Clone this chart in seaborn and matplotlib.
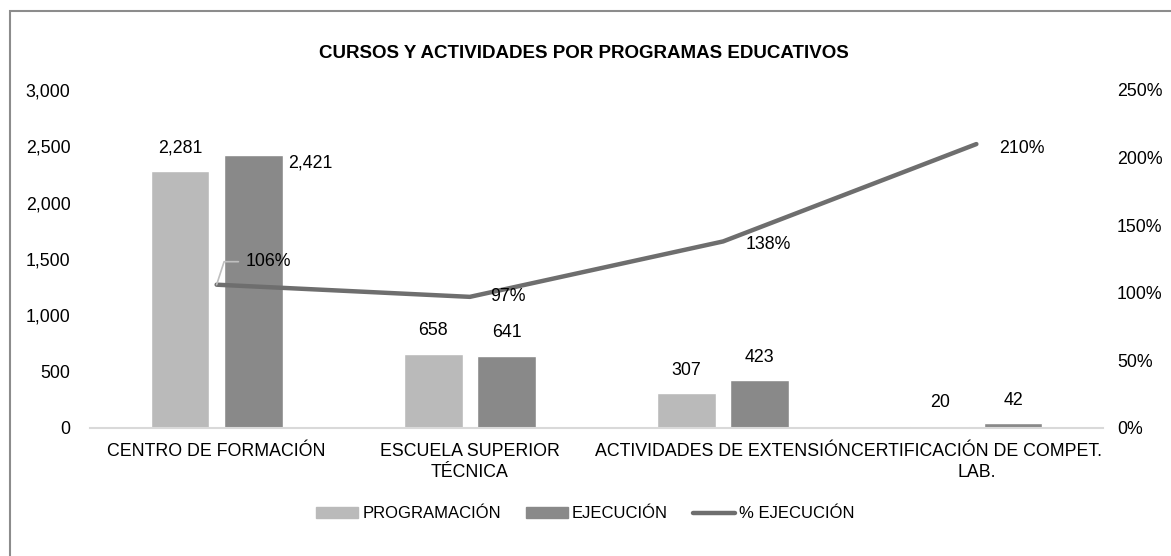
import numpy as np
import pandas as pd
import seaborn as sns
import matplotlib.pyplot as plt
from matplotlib.patches import Patch, Rectangle
from matplotlib.lines import Line2D
from matplotlib.ticker import FuncFormatter, PercentFormatter

categorias = ["CENTRO DE FORMACIÓN", "ESCUELA SUPERIOR TÉCNICA",
              "ACTIVIDADES DE EXTENSIÓN", "CERTIFICACIÓN DE COMPET. LAB."]
etiquetas_x = ["CENTRO DE FORMACIÓN", "ESCUELA SUPERIOR\nTÉCNICA",
               "ACTIVIDADES DE EXTENSIÓN", "CERTIFICACIÓN DE COMPET.\nLAB."]
programacion = [2281, 658, 307, 20]
ejecucion = [2421, 641, 423, 42]
pct_ejecucion = [1.06, 0.97, 1.38, 2.10]
pct_textos = ["106%", "97%", "138%", "210%"]

sns.set_style("white")
plt.rcParams["font.family"] = ["Liberation Sans", "DejaVu Sans"]
plt.rcParams["text.color"] = "black"
plt.rcParams["xtick.color"] = "black"
plt.rcParams["ytick.color"] = "black"

df = pd.DataFrame({
    "categoria": categorias * 2,
    "valor": programacion + ejecucion,
    "serie": ["PROGRAMACIÓN"] * 4 + ["EJECUCIÓN"] * 4,
})

c_prog, c_ejec, c_linea = "#BABABA", "#898989", "#6E6E6E"
fs = 12.8

fig = plt.figure(figsize=(11.71, 5.56), dpi=100)
ax = fig.add_axes([90 / 1171, 1 - 428 / 556, (1103 - 90) / 1171, (428 - 90) / 556])

sns.barplot(data=df, x="categoria", y="valor", hue="serie", order=categorias,
            palette=[c_prog, c_ejec], width=0.58, gap=0.2, ax=ax, legend=False,
            saturation=1)
ax.set_ylim(0, 3000)
ax.set_yticks(np.arange(0, 3001, 500))
ax.yaxis.set_major_formatter(FuncFormatter(lambda v, p: f"{v:,.0f}"))
ax.set_xlabel("")
ax.set_ylabel("")
ax.set_xticks(range(len(categorias)))
ax.set_xticklabels(etiquetas_x, fontsize=fs, linespacing=1.3)
ax.tick_params(axis="y", labelsize=fs, length=0, pad=14)
ax.tick_params(axis="x", length=0, pad=11)
for s in ["top", "left", "right"]:
    ax.spines[s].set_visible(False)
ax.spines["bottom"].set_color("#D9D9D9")
ax.spines["bottom"].set_linewidth(1.5)
ax.set_xlim(-0.5, 3.5)

# etiquetas de barras
for ci, cont in enumerate(ax.containers):
    for bi, bar in enumerate(cont):
        xc = bar.get_x() + bar.get_width() / 2
        h = bar.get_height()
        if ci == 1 and bi == 0:
            ax.annotate(f"{h:,.0f}", (bar.get_x() + bar.get_width(), h),
                        xytext=(5, -8), textcoords="offset pixels",
                        ha="left", va="center", fontsize=fs)
        else:
            ax.annotate(f"{h:,.0f}", (xc, h), xytext=(0, 23),
                        textcoords="offset pixels", ha="center", va="center",
                        fontsize=fs)

ax2 = ax.twinx()
sns.lineplot(x=categorias, y=pct_ejecucion, ax=ax2, color=c_linea, lw=3.2,
             sort=False, solid_capstyle="round")
ax2.set_ylim(0, 2.5)
ax2.set_yticks(np.arange(0, 2.51, 0.5))
ax2.yaxis.set_major_formatter(PercentFormatter(1.0, decimals=0))
ax2.tick_params(axis="y", labelsize=fs, length=0, pad=10)
for s in ["top", "left", "right", "bottom"]:
    ax2.spines[s].set_visible(False)
ax2.set_xlim(-0.5, 3.5)

offsets = [(52, 23), (38, 0), (45, -3), (45, -4)]
for i, (txt, off) in enumerate(zip(pct_textos, offsets)):
    if i == 0:
        ax2.annotate(txt, (i, pct_ejecucion[i]), xytext=off,
                     textcoords="offset pixels", ha="center", va="center",
                     fontsize=fs,
                     arrowprops=dict(arrowstyle="-", color="#BFBFBF", lw=1.2,
                                     connectionstyle="angle,angleA=0,angleB=72,rad=0",
                                     relpos=(0, 0.5), shrinkA=3, shrinkB=0))
    else:
        ax2.annotate(txt, (i, pct_ejecucion[i]), xytext=off,
                     textcoords="offset pixels", ha="center", va="center",
                     fontsize=fs)

fig.text(0.4987, 1 - 53 / 556, "CURSOS Y ACTIVIDADES POR PROGRAMAS EDUCATIVOS",
         ha="center", va="center", fontsize=13.5, fontweight="bold")

handles = [Patch(color=c_prog), Patch(color=c_ejec),
           Line2D([], [], color=c_linea, lw=3.2, solid_capstyle="round")]
fig.legend(handles, ["PROGRAMACIÓN", "EJECUCIÓN", "% EJECUCIÓN"],
           loc="center", bbox_to_anchor=(0.5, 1 - 514 / 556), ncol=3,
           frameon=False, fontsize=12, handlelength=2.5, handleheight=0.6,
           handletextpad=0.26, columnspacing=1.5)

fig.patches.append(Rectangle((10 / 1171, -0.1), 1.2, 1 - 11 / 556 + 0.1,
                             transform=fig.transFigure, fill=False,
                             edgecolor="#8C8C8C", lw=1.5))

fig.savefig("out.png", dpi=100)
